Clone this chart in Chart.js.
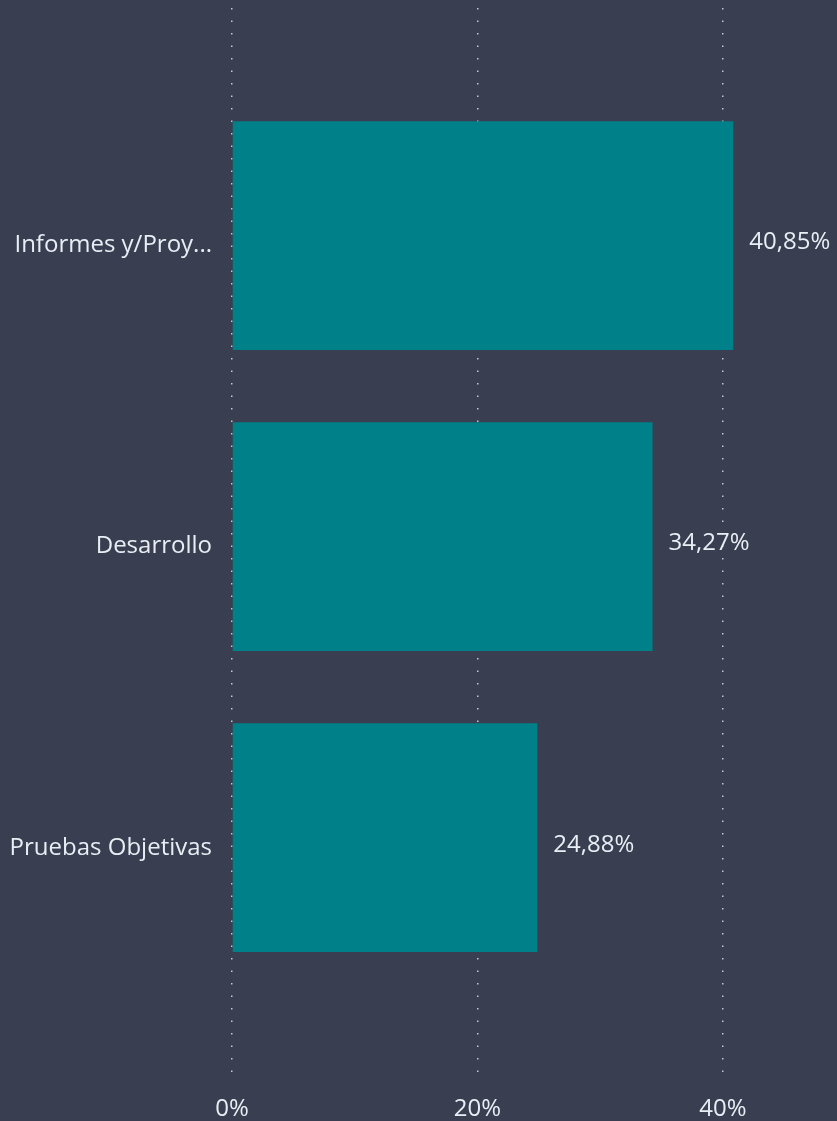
<!DOCTYPE html>
<html>
<head>
<meta charset="utf-8">
<script src="https://cdn.jsdelivr.net/npm/chart.js@4"></script>
<style>
  html, body { margin: 0; padding: 0; background: #393e50; }
  #wrap { width: 837px; height: 1121px; position: relative; }
</style>
</head>
<body>
<div id="wrap"><canvas id="chart"></canvas></div>
<script>
// Data
const categories = ['Informes y/Proy...', 'Desarrollo', 'Pruebas Objetivas'];
const shares = [40.85, 34.27, 24.88];
const xTicks = [0, 20, 40];

const TEXT = '#e9eef5';
const FONT = "'Open Sans', sans-serif";

// value labels at the end of each bar
const barLabels = {
    id: 'barLabels',
    afterDatasetsDraw(chart) {
        const c = chart.ctx;
        const meta = chart.getDatasetMeta(0);
        c.save();
        c.fillStyle = TEXT;
        c.font = '24px ' + FONT;
        c.textAlign = 'left';
        c.textBaseline = 'middle';
        meta.data.forEach((bar, i) => {
            const txt = shares[i].toFixed(2).replace('.', ',') + '%';
            c.fillText(txt, bar.x + 16, bar.y + 7);
        });
        c.restore();
    }
};

new Chart(document.getElementById('chart'), {
    type: 'bar',
    data: {
        datasets: [{
            data: shares.map((v, i) => ({ x: v, y: i })),
            backgroundColor: '#008189',
            borderWidth: 0,
            barPercentage: 0.76,
            categoryPercentage: 1
        }]
    },
    options: {
        indexAxis: 'y',
        responsive: true,
        maintainAspectRatio: false,
        animation: false,
        layout: { padding: { top: 8, right: 0, bottom: 0, left: 0 } },
        plugins: {
            legend: { display: false },
            tooltip: { enabled: false }
        },
        scales: {
            x: {
                type: 'linear',
                min: 0,
                max: 49.3,
                grid: {
                    color: '#c3c7cf',
                    lineWidth: 1.5,
                    drawTicks: false
                },
                border: { display: false, dash: [1.5, 11] },
                afterFit(scale) { scale.height = 44; },
                ticks: {
                    stepSize: 20,
                    includeBounds: false,
                    padding: 18,
                    color: TEXT,
                    font: { family: FONT, size: 24 },
                    callback: v => v + '%'
                }
            },
            y: {
                type: 'linear',
                reverse: true,
                offset: false,
                min: -0.756,
                max: 2.795,
                border: { display: false },
                grid: { display: false, drawTicks: false },
                afterFit(scale) {
                    scale.width = 232;
                    // labels sit well inside the plot, no extra room needed
                    scale.paddingTop = 0;
                    scale.paddingBottom = 0;
                },
                ticks: {
                    stepSize: 1,
                    includeBounds: false,
                    padding: 20,
                    labelOffset: 10,
                    color: TEXT,
                    font: { family: FONT, size: 24 },
                    callback: v => categories[v] || ''
                }
            }
        }
    },
    plugins: [barLabels]
});
</script>
</body>
</html>
